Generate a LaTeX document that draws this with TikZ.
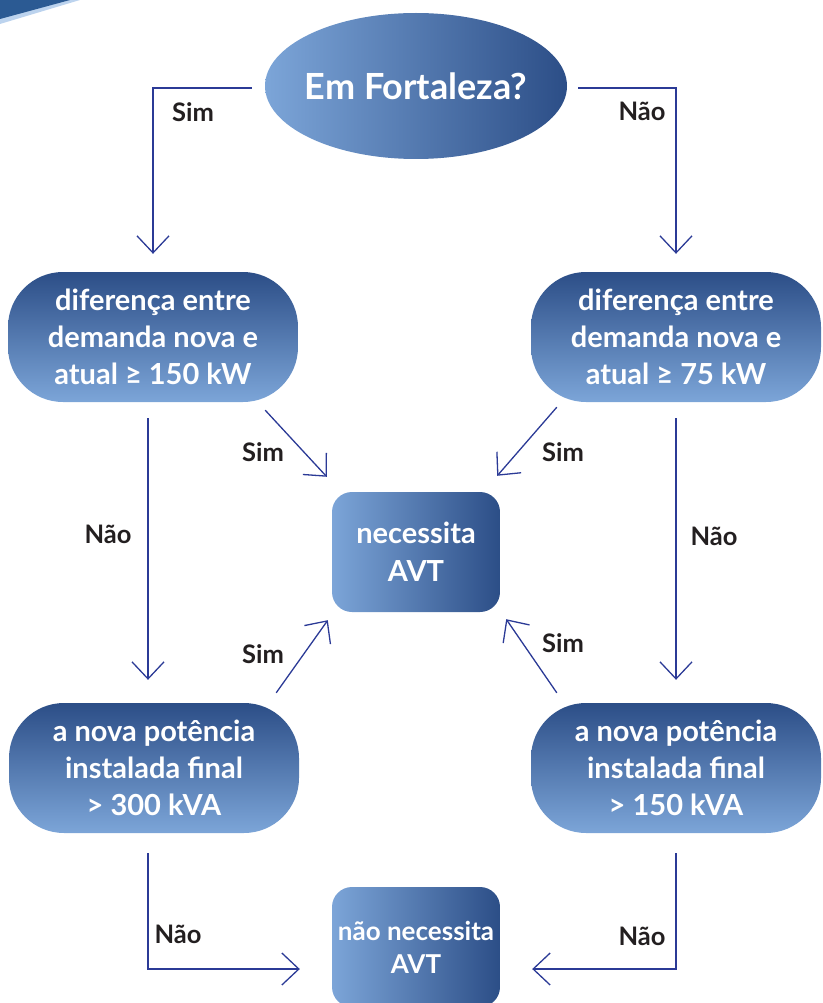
\documentclass[tikz,border=0pt]{standalone}
\usepackage{fontspec}
\setmainfont{Lato}
\usetikzlibrary{shapes.geometric,arrows.meta,calc}
\definecolor{lightb}{HTML}{7CA5D8}
\definecolor{darkb}{HTML}{2C4E87}
\definecolor{linec}{HTML}{2B3A96}
\definecolor{labc}{HTML}{231F20}
\definecolor{swdark}{HTML}{2B5A93}
\definecolor{swlight}{HTML}{BCD3EE}
\begin{document}
\begin{tikzpicture}[x=1pt,y=-1pt,
  conn/.style={draw=linec,line width=1.3pt,-{Straight Barb[length=17pt,width=32pt]}},
  lab/.style={text=labc,font=\bfseries\fontsize{25.5}{30}\selectfont,inner sep=0pt},
  ell/.style={ellipse,minimum width=302pt,minimum height=146pt,inner sep=0pt,
     left color=lightb,right color=darkb,text=white,
     font=\bfseries\fontsize{36}{42}\selectfont},
  sidebox/.style={rectangle,rounded corners=55pt,minimum width=290pt,minimum height=130pt,
     inner sep=0pt,top color=darkb,bottom color=lightb,text=white,align=center,
     font=\bfseries\fontsize{29}{37}\selectfont},
  endbox/.style={rectangle,rounded corners=20pt,minimum width=168pt,minimum height=120pt,
     inner sep=0pt,left color=lightb,right color=darkb,text=white,align=center}
]
\useasboundingbox (0,0) rectangle (822,1003);
\clip (0,0) rectangle (822,1003);
% corner swoosh
\fill[swlight] (0,0) -- (80,0) -- (0,24) -- cycle;
\fill[swdark] (0,0) -- (70,0) -- (0,19) -- cycle;

\node[ell] (fort) at (416,86) {\makebox[0pt]{Em Fortaleza?}};
\node[sidebox] (tl) at (153,337) {diferença entre\\demanda nova e\\atual ≥ 150 kW};
\node[sidebox] (tr) at (676,337) {diferença entre\\demanda nova e\\atual ≥ 75 kW};
\node[sidebox] (bl) at (154,768) {a nova potência\\instalada final\\ > 300 kVA};
\node[sidebox] (br) at (676,768) {a nova potência\\instalada final\\ > 150 kVA};
\node[endbox,font=\bfseries\fontsize{29}{38}\selectfont] (avt) at (416,552) {necessita\\AVT};
\node[endbox,font=\bfseries\fontsize{26}{33}\selectfont] (no) at (416,947) {não necessita\\AVT};

\draw[conn,shorten <=13pt,shorten >=18pt] ($(fort.west)+(0,2)$) -| (tl.north);
\draw[conn,shorten <=11pt,shorten >=18pt] ($(fort.east)+(0,2)$) -| (tr.north);
\draw[conn] ($(tl.south east)+(-33,8)$) -- ($(avt.north west)+(-5,-15)$);
\draw[conn] ($(tr.south west)+(26,5)$) -- ($(avt.north east)+(-3,-16)$);
\draw[conn] ($(tl.south)+(-5,16)$) -- ($(bl.north)+(-6,-23)$);
\draw[conn] ($(tr.south)+(0,16)$) -- ($(br.north)+(0,-23)$);
\draw[conn] ($(bl.north east)+(-23,-10)$) -- ($(avt.south west)+(-4,8)$);
\draw[conn] ($(br.north west)+(26,-10)$) -- ($(avt.south east)+(6,7)$);
\draw[conn] ($(bl.south)+(-6,20)$) |- ($(no.west)+(-32,22)$);
\draw[conn] ($(br.south)+(0,20)$) |- ($(no.east)+(32,22)$);

\node[lab] (s1) at (193,112) {Sim};
\node[lab] (n1) at (642,111) {Não};
\node[lab] (s2) at (263,452) {Sim};
\node[lab] (s3) at (563,452) {Sim};
\node[lab] (n2) at (108,534) {Não};
\node[lab] (n3) at (714,536) {Não};
\node[lab] (s4) at (263,654) {Sim};
\node[lab] (s5) at (563,643) {Sim};
\node[lab] (n4) at (178,934) {Não};
\node[lab] (n5) at (642,936) {Não};
\end{tikzpicture}
\end{document}
